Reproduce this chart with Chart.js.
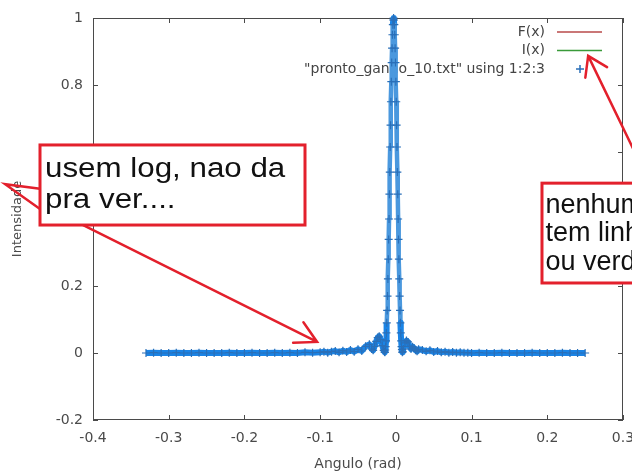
<!DOCTYPE html>
<html>
<head>
<meta charset="utf-8">
<title>Intensidade x Angulo</title>
<script src="https://cdn.jsdelivr.net/npm/chart.js@4.4.1/dist/chart.umd.min.js"></script>
<style>
  html, body { margin: 0; padding: 0; background: #fff; }
  canvas { display: block; }
</style>
</head>
<body>
<canvas id="grafico" width="632" height="476"></canvas>
<script>
// --- DADOS ---
const angulo = [
  -0.33, -0.32, -0.31, -0.30, -0.29, -0.28, -0.27, -0.26, -0.25, -0.24, -0.23, -0.22,
  -0.21, -0.20, -0.19, -0.18, -0.17, -0.16, -0.15, -0.14, -0.13, -0.12, -0.11,
  -0.100, -0.095, -0.090, -0.085, -0.080, -0.075, -0.070, -0.065, -0.060, -0.055,
  -0.050, -0.045, -0.040, -0.035,
  -0.032, -0.030, -0.028, -0.026, -0.024, -0.022, -0.020, -0.018, -0.016,
  -0.0150, -0.0145, -0.0140, -0.0135, -0.0130, -0.0125, -0.0120, -0.0115,
  -0.0110, -0.0105, -0.0100, -0.0095, -0.0090, -0.0085, -0.0080, -0.0075,
  -0.0070, -0.0065, -0.0060, -0.0055, -0.0050, -0.0045, -0.0040, -0.0035,
  -0.0030, -0.0025, -0.0020, -0.0015, -0.0010, -0.0005, 0.0000, 0.0005,
  0.0010, 0.0015, 0.0020, 0.0025, 0.0030, 0.0035, 0.0040, 0.0045,
  0.0050, 0.0055, 0.0060, 0.0065, 0.0070, 0.0075, 0.0080, 0.0085, 0.0090,
  0.010, 0.012, 0.014, 0.016, 0.018, 0.020, 0.022, 0.024, 0.026, 0.028, 0.030,
  0.035, 0.040, 0.045, 0.050, 0.055, 0.060, 0.065, 0.070, 0.075, 0.080, 0.085,
  0.090, 0.095,
  0.10, 0.11, 0.12, 0.13, 0.14, 0.15, 0.16, 0.17, 0.18, 0.19, 0.20, 0.21, 0.22,
  0.23, 0.24, 0.25
];
const intensidade = [
  0, 0.001, 0, 0, 0.001, 0, 0, 0.001, 0, 0, 0, 0.001,
  0, 0, 0.001, 0, 0, 0.001, 0, 0.001, 0, 0.002, 0.001,
  0.002, 0.004, 0.001, 0.004, 0.006, 0.002, 0.007, 0.003, 0.009, 0.004,
  0.011, 0.006, 0.02, 0.026,
  0.012, 0.008, 0.02, 0.035, 0.046, 0.05, 0.04, 0.022, 0.008,
  0.003, 0.002, 0.009, 0.019, 0.036, 0.06, 0.09, 0.127,
  0.17, 0.221, 0.28, 0.339, 0.40, 0.474, 0.54, 0.615,
  0.68, 0.75, 0.81, 0.867, 0.91, 0.95, 0.98, 0.994,
  1.0, 0.994, 0.98, 0.95, 0.91, 0.867, 0.81, 0.75,
  0.68, 0.615, 0.54, 0.474, 0.40, 0.339, 0.28, 0.221,
  0.17, 0.127, 0.09, 0.06, 0.036, 0.019, 0.01, 0.002, 0.004,
  0.012, 0.03, 0.037, 0.033, 0.02, 0.012, 0.019, 0.015, 0.008, 0.005, 0.011,
  0.009, 0.005, 0.008, 0.003, 0.006, 0.002, 0.004, 0.001, 0.003, 0.001, 0.002,
  0.001, 0.001,
  0, 0.001, 0, 0, 0.001, 0, 0, 0, 0.001, 0, 0, 0, 0.001,
  0, 0, 0
];

const xTicks = [-0.4, -0.3, -0.2, -0.1, 0, 0.1, 0.2, 0.3];
const xTickLabels = ["-0.4", "-0.3", "-0.2", "-0.1", "0", "0.1", "0.2", "0.3"];
const yTicks = [-0.2, 0, 0.2, 0.4, 0.6, 0.8, 1];
const yTickLabels = ["-0.2", "0", "0.2", "0.4", "0.6", "0.8", "1"];
const legendas = ["F(x)", "I(x)", '"pronto_ganho_10.txt" using 1:2:3'];

// comentarios em vermelho por cima do grafico
const notaLog = ["usem log, nao da", "pra ver...."];
const notaCor = ["nenhum", "tem linha", "ou verde"];

const AZUL = "#1a84e6";
const VERMELHO = "#e3202c";
const CINZA = "#4a4a4a";

// --- MOLDURA, TICKS PARA DENTRO E LEGENDA (estilo gnuplot) ---
const moldura = {
  id: "moldura",
  beforeDatasetsDraw(chart) {
    const { ctx, chartArea: a, scales } = chart;
    ctx.save();
    ctx.strokeStyle = CINZA;
    ctx.lineWidth = 1;
    ctx.strokeRect(a.left + 0.5, a.top + 0.5, a.right - a.left - 1, a.bottom - a.top - 1);
    ctx.beginPath();
    xTicks.forEach((v) => {
      const px = Math.round(scales.x.getPixelForValue(v)) + 0.5;
      ctx.moveTo(px, a.bottom); ctx.lineTo(px, a.bottom - 5);
      ctx.moveTo(px, a.top); ctx.lineTo(px, a.top + 5);
    });
    yTicks.forEach((v) => {
      const py = Math.round(scales.y.getPixelForValue(v)) + 0.5;
      ctx.moveTo(a.left, py); ctx.lineTo(a.left + 5, py);
      ctx.moveTo(a.right, py); ctx.lineTo(a.right - 5, py);
    });
    ctx.stroke();

    // legenda
    ctx.font = '14px "DejaVu Sans"';
    ctx.textAlign = "right";
    ctx.textBaseline = "middle";
    chart.data.datasets.forEach((d, i) => {
      const y = a.top + 14 + i * 18.5;
      ctx.fillStyle = "#444";
      ctx.fillText(d.label, a.right - 78, y);
      ctx.strokeStyle = d.borderColor;
      ctx.lineWidth = 1.5;
      ctx.beginPath();
      if (d.data.length === 0) {
        ctx.moveTo(a.right - 66, y); ctx.lineTo(a.right - 21, y);
      } else {
        ctx.strokeStyle = d.pointBorderColor;
        ctx.moveTo(a.right - 47, y); ctx.lineTo(a.right - 39, y);
        ctx.moveTo(a.right - 43, y - 4); ctx.lineTo(a.right - 43, y + 4);
      }
      ctx.stroke();
    });
    ctx.restore();
  }
};

function seta(ctx, x1, y1, x2, y2, tam, ang) {
  const t = Math.atan2(y2 - y1, x2 - x1);
  ctx.beginPath();
  ctx.moveTo(x1, y1); ctx.lineTo(x2, y2);
  ctx.moveTo(x2 - tam * Math.cos(t - ang), y2 - tam * Math.sin(t - ang));
  ctx.lineTo(x2, y2);
  ctx.lineTo(x2 - tam * Math.cos(t + ang), y2 - tam * Math.sin(t + ang));
  ctx.stroke();
}

function caixa(ctx, x1, y1, x2, y2, linhas, tx, ty0, passo, esticar) {
  ctx.fillStyle = "#fff";
  ctx.fillRect(x1, y1, x2 - x1, y2 - y1);
  ctx.strokeStyle = VERMELHO;
  ctx.lineWidth = 3;
  ctx.strokeRect(x1, y1, x2 - x1, y2 - y1);
  ctx.fillStyle = "#111";
  ctx.font = '27px "Liberation Sans"';
  ctx.textAlign = "left";
  ctx.textBaseline = "alphabetic";
  linhas.forEach((l, i) => {
    ctx.save();
    ctx.translate(tx, ty0 + i * passo);
    ctx.scale(esticar, 1);
    ctx.fillText(l, 0, 0);
    ctx.restore();
  });
}

const anotacoes = {
  id: "anotacoes",
  afterDraw(chart) {
    const { ctx, scales } = chart;
    const X = (v) => scales.x.getPixelForValue(v);
    const Y = (v) => scales.y.getPixelForValue(v);
    ctx.save();
    ctx.strokeStyle = VERMELHO;
    ctx.lineWidth = 2.5;
    ctx.lineCap = "round";
    // seta para o rotulo "Intensidade"
    ctx.beginPath();
    ctx.moveTo(X(-0.47), Y(0.49)); ctx.lineTo(X(-0.516), Y(0.504));
    ctx.lineTo(X(-0.47), Y(0.43));
    ctx.stroke();
    // seta para a linha de base
    seta(ctx, X(-0.413), Y(0.382), X(-0.104), Y(0.033), 24, 0.5);
    // seta para a legenda
    seta(ctx, X(0.336), Y(0.504), X(0.254), Y(0.887), 22, 0.58);

    caixa(ctx, X(-0.47), Y(0.621), X(-0.12), Y(0.382), notaLog, X(-0.4634), Y(0.525), 31, 1.16);
    caixa(ctx, X(0.193), Y(0.507), X(0.40), Y(0.209), notaCor, X(0.1975), Y(0.418), 28.5, 1.0);
    ctx.restore();
  }
};

const pontos = angulo.map((x, i) => ({ x: x, y: intensidade[i] }));
const ingreme = (c) => Math.abs(c.p1.parsed.y - c.p0.parsed.y) > 0.03;

new Chart(document.getElementById("grafico"), {
  type: "scatter",
  data: {
    datasets: [
      { label: legendas[0], data: [], showLine: true, borderColor: "#b84a4a" },
      { label: legendas[1], data: [], showLine: true, borderColor: "#3a9a3a" },
      {
        label: legendas[2],
        data: pontos,
        showLine: true,
        borderColor: AZUL,
        borderWidth: 6,
        borderJoinStyle: "round",
        pointStyle: "cross",
        pointRadius: 4,
        pointBorderWidth: 1.2,
        pointBorderColor: "#2a6fb8",
        segment: {
          borderWidth: (c) => (ingreme(c) ? 4.5 : undefined),
          borderColor: (c) => (ingreme(c) ? "#4a98de" : undefined)
        },
        clip: 8
      }
    ]
  },
  options: {
    responsive: false,
    animation: false,
    devicePixelRatio: 1,
    layout: { padding: { top: 18, right: 9, left: 0, bottom: 0 } },
    plugins: { legend: { display: false }, tooltip: { enabled: false } },
    scales: {
      x: {
        type: "linear",
        min: -0.4,
        max: 0.3,
        afterBuildTicks: (s) => { s.ticks = xTicks.map((v) => ({ value: v })); },
        afterFit: (s) => { s.height = 56; s.paddingLeft = 0; s.paddingRight = 0; },
        grid: { display: false, drawTicks: false },
        border: { display: false },
        ticks: {
          autoSkip: false,
          maxRotation: 0,
          padding: 10,
          color: "#4a4a4a",
          font: { family: "DejaVu Sans", size: 14 },
          callback: (v, i) => xTickLabels[i]
        },
        title: {
          display: true,
          text: "Angulo (rad)",
          color: "#4a4a4a",
          font: { family: "DejaVu Sans", size: 14 },
          padding: { top: 0, bottom: 3 }
        }
      },
      y: {
        type: "linear",
        min: -0.2,
        max: 1,
        afterBuildTicks: (s) => { s.ticks = yTicks.map((v) => ({ value: v })); },
        afterFit: (s) => { s.width = 93; s.paddingTop = 0; s.paddingBottom = 0; },
        grid: { display: false, drawTicks: false },
        border: { display: false },
        ticks: {
          autoSkip: false,
          padding: 10,
          color: "#4a4a4a",
          font: { family: "DejaVu Sans", size: 14 },
          callback: (v, i) => yTickLabels[i]
        },
        title: {
          display: true,
          text: "Intensidade",
          color: "#4a4a4a",
          font: { family: "DejaVu Sans", size: 13 },
          padding: { top: 10, bottom: 0 }
        }
      }
    }
  },
  plugins: [moldura, anotacoes]
});
</script>
</body>
</html>
